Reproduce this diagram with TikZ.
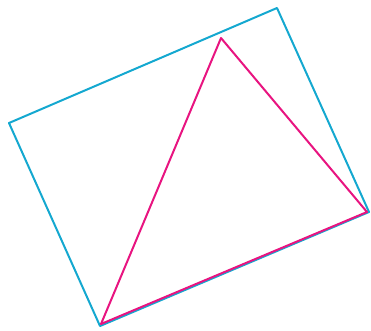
\documentclass[tikz,border=0pt]{standalone}
\definecolor{cy}{RGB}{20,168,208}
\definecolor{mg}{RGB}{232,20,128}
\begin{document}
\begin{tikzpicture}[x=1pt,y=-1pt,
  rect/.style={draw=cy,line width=2pt,line join=round},
  tri/.style={draw=mg,line width=2pt,line join=round}]
\useasboundingbox (0,0) rectangle (371,330);
\coordinate (A) at (9,123);
\coordinate (B) at (277,8);
\coordinate (C) at (369,212);
\coordinate (D) at (100,326);
\coordinate (T) at (221,38);
\coordinate (R) at (367,212);
\coordinate (L) at (101,324);
\draw[rect] (A) -- (B) -- (C) -- (D) -- cycle;
\draw[tri] (T) -- (R) -- (L) -- cycle;
\end{tikzpicture}
\end{document}
